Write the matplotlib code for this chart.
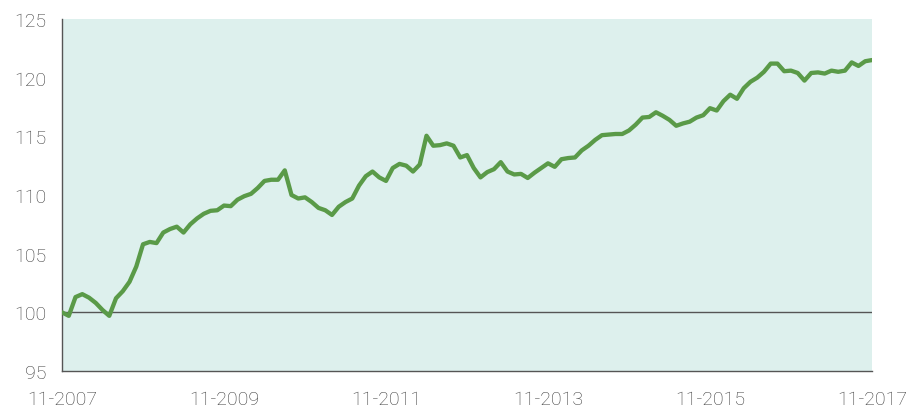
import numpy as np
import matplotlib.pyplot as plt

plt.rcParams['font.family'] = ['Roboto', 'DejaVu Sans']

# monthly index values, 11-2007 .. 11-2017
values = [100.0, 99.7, 101.3, 101.55, 101.25, 100.8, 100.2, 99.7, 101.2, 101.8,
          102.6, 103.9, 105.8, 106.0, 105.9, 106.8, 107.1, 107.3, 106.8, 107.5,
          108.0, 108.4, 108.65, 108.7, 109.1, 109.05, 109.6, 109.9, 110.1, 110.6,
          111.2, 111.3, 111.3, 112.1, 110.0, 109.7, 109.8, 109.4, 108.9, 108.7,
          108.3, 109.0, 109.4, 109.7, 110.8, 111.6, 112.0, 111.5, 111.2, 112.3,
          112.65, 112.5, 112.0, 112.6, 115.05, 114.2, 114.25, 114.4, 114.2, 113.2,
          113.4, 112.3, 111.5, 111.95, 112.2, 112.8, 112.0, 111.75, 111.8, 111.45,
          111.9, 112.3, 112.7, 112.4, 113.05, 113.15, 113.2, 113.8, 114.2, 114.7,
          115.1, 115.15, 115.2, 115.2, 115.5, 116.0, 116.6, 116.65, 117.05, 116.75,
          116.4, 115.9, 116.1, 116.25, 116.6, 116.8, 117.4, 117.2, 118.0, 118.55,
          118.2, 119.1, 119.65, 120.0, 120.5, 121.2, 121.2, 120.55, 120.6, 120.4,
          119.75, 120.4, 120.45, 120.35, 120.6, 120.5, 120.6, 121.3, 121.0, 121.4,
          121.5]
tick_pos = [0, 24, 48, 72, 96, 120]
tick_labels = ['11-2007', '11-2009', '11-2011', '11-2013', '11-2015', '11-2017']

fig = plt.figure(figsize=(9.23, 4.10), dpi=100)
ax = fig.add_axes([0.0672, 0.0927, 0.8775, 0.8585])
ax.set_facecolor('#ddf0ed')

x = np.arange(len(values))
ax.axhline(100, color='#555555', lw=1.0, zorder=2)
ax.plot(x, values, color='#5a9a48', lw=3.1, solid_joinstyle='round',
        solid_capstyle='round', zorder=3)

ax.set_xlim(0, 120)
ax.set_ylim(95, 125)
ax.set_yticks(range(95, 126, 5))
ax.set_xticks(tick_pos)
ax.set_xticklabels(tick_labels)

for s in ['top', 'right']:
    ax.spines[s].set_visible(False)
for s in ['left', 'bottom']:
    ax.spines[s].set_color('#555555')
    ax.spines[s].set_linewidth(1.0)

ax.tick_params(length=0, labelsize=14, labelcolor='#3a3a3a')
ax.tick_params(axis='y', pad=11)
ax.tick_params(axis='x', pad=14)
for lab in ax.get_xticklabels() + ax.get_yticklabels():
    lab.set_fontweight('light')

fig.savefig('out.png', dpi=100)
